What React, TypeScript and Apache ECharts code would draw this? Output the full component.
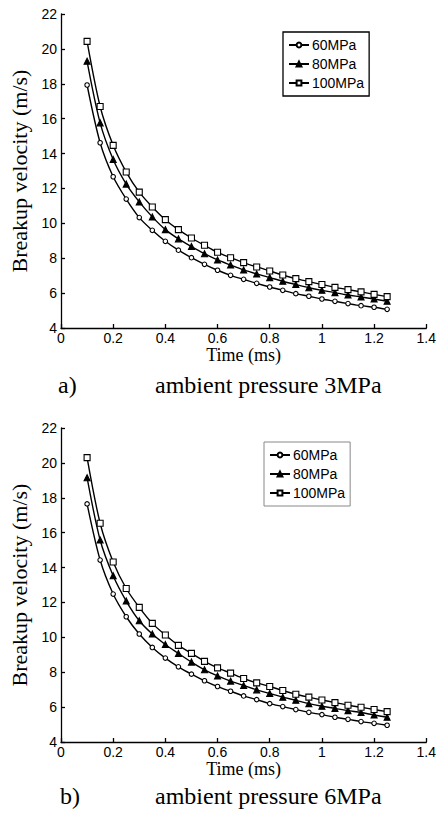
import React, { useEffect, useRef } from 'react';
import * as echarts from 'echarts';

const times = [0.1, 0.15, 0.2, 0.25, 0.3, 0.35, 0.4, 0.45, 0.5, 0.55, 0.6, 0.65, 0.7, 0.75, 0.8, 0.85, 0.9, 0.95, 1.0, 1.05, 1.1, 1.15, 1.2, 1.25];

const a60 = [17.93, 14.62, 12.67, 11.39, 10.33, 9.60, 8.97, 8.46, 8.03, 7.65, 7.31, 7.02, 6.79, 6.56, 6.35, 6.16, 5.97, 5.82, 5.66, 5.53, 5.40, 5.28, 5.19, 5.07];
const a80 = [19.29, 15.76, 13.66, 12.25, 11.23, 10.37, 9.64, 9.11, 8.67, 8.26, 7.90, 7.61, 7.33, 7.10, 6.89, 6.68, 6.49, 6.31, 6.16, 6.03, 5.89, 5.78, 5.66, 5.53];
const a100 = [20.43, 16.70, 14.47, 12.94, 11.79, 10.94, 10.21, 9.64, 9.16, 8.74, 8.34, 8.03, 7.75, 7.50, 7.27, 7.04, 6.83, 6.66, 6.49, 6.33, 6.20, 6.07, 5.93, 5.80];

const b60 = [17.65, 14.43, 12.48, 11.18, 10.19, 9.42, 8.81, 8.31, 7.89, 7.51, 7.18, 6.91, 6.64, 6.43, 6.20, 6.03, 5.86, 5.70, 5.57, 5.42, 5.30, 5.17, 5.07, 4.96];
const b80 = [19.15, 15.58, 13.53, 12.08, 10.95, 10.19, 9.59, 9.08, 8.58, 8.14, 7.79, 7.49, 7.24, 6.99, 6.78, 6.57, 6.39, 6.20, 6.05, 5.93, 5.80, 5.69, 5.55, 5.42];
const b100 = [20.30, 16.54, 14.32, 12.80, 11.72, 10.80, 10.13, 9.54, 9.08, 8.62, 8.25, 7.95, 7.64, 7.39, 7.18, 6.95, 6.74, 6.57, 6.41, 6.26, 6.11, 5.99, 5.86, 5.74];

const seriesNames = ['60MPa', '80MPa', '100MPa'];
const captions = ['ambient pressure 3MPa', 'ambient pressure 6MPa'];
const captionLetters = ['a)', 'b)'];
const xTitle = 'Time (ms)';
const yTitle = 'Breakup velocity (m/s)';

const SANS = '"Liberation Sans", Arial, sans-serif';
const SERIF = '"Liberation Serif", "Times New Roman", serif';

export default function App() {
  const ref = useRef<HTMLDivElement>(null);
  useEffect(() => {
    if (!ref.current) return;
    const chart = echarts.init(ref.current, undefined, { renderer: 'svg' });
    const pair = (ys: number[]) => times.map((t, i) => [t, ys[i]]);
    const grids = [
      { left: 57, top: 14, width: 370, height: 314 },
      { left: 57, top: 428, width: 370, height: 314 },
    ];
    const xAxisBase = (gi: number) => ({
      type: 'value', gridIndex: gi, min: 0, max: 1.4, interval: 0.2,
      name: xTitle, nameLocation: 'middle', nameGap: 18,
      nameTextStyle: { fontFamily: SERIF, fontSize: 18, color: '#000' },
      axisLine: { show: true, onZero: false, lineStyle: { color: '#000', width: 1.3 } },
      axisTick: { show: true, inside: true, length: 4, lineStyle: { color: '#000', width: 1.3 } },
      axisLabel: { fontFamily: SANS, fontSize: 14, color: '#000', margin: 3 },
      splitLine: { show: false },
    });
    const yAxisBase = (gi: number) => ({
      type: 'value', gridIndex: gi, min: 4, max: 22, interval: 2,
      name: yTitle, nameLocation: 'middle', nameGap: 31,
      nameTextStyle: { fontFamily: SERIF, fontSize: 22, color: '#000' },
      axisLine: { show: true, onZero: false, lineStyle: { color: '#000', width: 1.3 } },
      axisTick: { show: true, inside: true, length: 4, lineStyle: { color: '#000', width: 1.3 } },
      axisLabel: { fontFamily: SANS, fontSize: 14, color: '#000', margin: 4 },
      splitLine: { show: false },
    });
    const mk = (gi: number, name: string, ys: number[], symbol: string, size: number, fill: string) => ({
      type: 'line', name, xAxisIndex: gi, yAxisIndex: gi, data: pair(ys),
      smooth: 0.3, symbol, symbolSize: size, showSymbol: true,
      lineStyle: { color: '#000', width: 1.4 },
      itemStyle: { color: fill, borderColor: '#000', borderWidth: 1.1 },
    });
    const legendBase = (left: number, top: number, border: string, bw: number) => ({
      data: seriesNames, orient: 'vertical', left, top,
      padding: [5, 5, 5, 5], itemGap: 3, itemWidth: 20, itemHeight: 6,
      borderColor: border, borderWidth: bw, backgroundColor: '#fff',
      textStyle: { fontFamily: SANS, fontSize: 14, lineHeight: 16, color: '#000', padding: [0, 0, 0, -2] },
      selectedMode: false,
    });
    const capText = (x: number, y: number, text: string) => ({
      type: 'text', left: x, top: y,
      style: { text, font: `24px ${SERIF}`, fill: '#000' },
    });
    chart.setOption({
      animation: false,
      backgroundColor: '#fff',
      grid: grids,
      xAxis: [xAxisBase(0), xAxisBase(1)],
      yAxis: [yAxisBase(0), yAxisBase(1)],
      legend: [legendBase(283, 32, '#000', 1.3), legendBase(264, 442, '#888', 1)],
      series: [
        mk(0, seriesNames[0], a60, 'circle', 4.5, '#fff'),
        mk(0, seriesNames[1], a80, 'triangle', 6, '#000'),
        mk(0, seriesNames[2], a100, 'rect', 6, '#fff'),
        mk(1, seriesNames[0], b60, 'circle', 4.5, '#fff'),
        mk(1, seriesNames[1], b80, 'triangle', 6, '#000'),
        mk(1, seriesNames[2], b100, 'rect', 6, '#fff'),
      ],
      graphic: [
        capText(58, 373, captionLetters[0]),
        capText(155, 373, captions[0]),
        capText(60, 784, captionLetters[1]),
        capText(155, 784, captions[1]),
      ],
    });
    return () => chart.dispose();
  }, []);
  return <div ref={ref} style={{ position: 'absolute', left: 0, top: 0, width: 439, height: 818 }} />;
}
